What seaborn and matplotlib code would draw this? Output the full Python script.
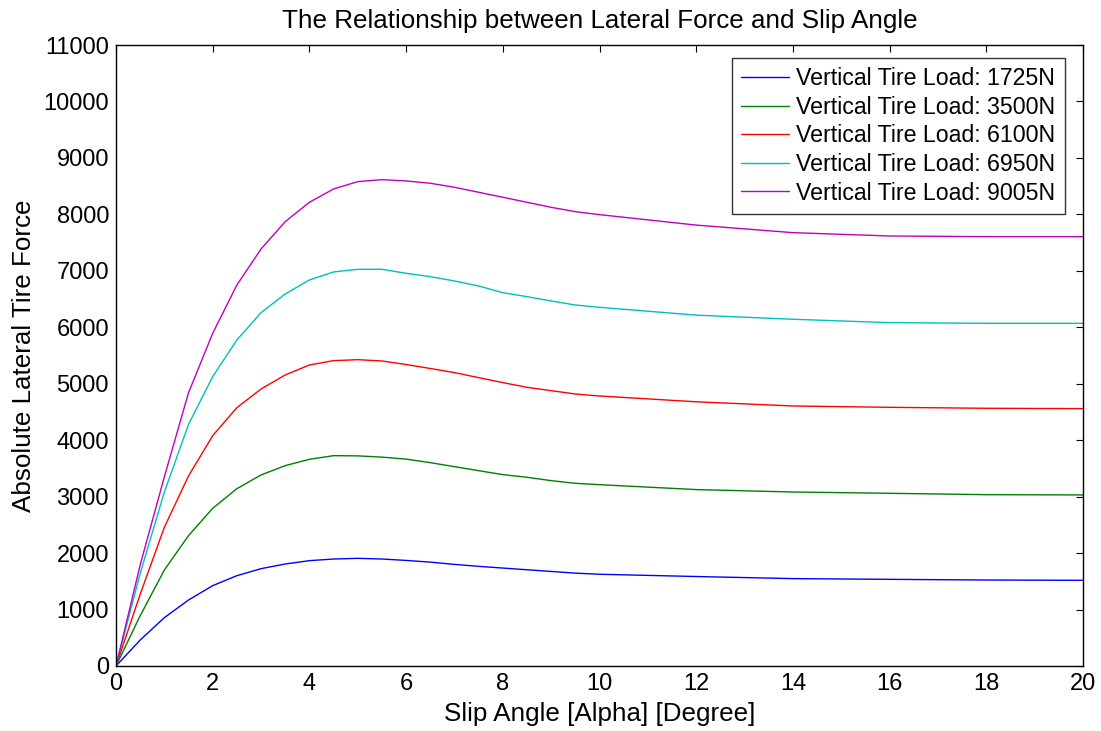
import numpy as np
import pandas as pd
import matplotlib
matplotlib.use("Agg")
import matplotlib.pyplot as plt
import seaborn as sns

# ---- data ----
slip_angle = [0, 0.5, 1, 1.5, 2, 2.5, 3, 3.5, 4, 4.5, 5, 5.5, 6, 6.5, 7, 7.5,
              8, 8.5, 9, 9.5, 10, 12, 14, 16, 18, 20]

load_1725 = [0, 460, 856, 1169, 1423, 1600, 1724, 1807, 1866, 1895, 1907, 1895,
             1870, 1840, 1800, 1765, 1735, 1705, 1675, 1645, 1625, 1585, 1548,
             1535, 1523, 1518]
load_3500 = [0, 890, 1700, 2309, 2793, 3141, 3384, 3549, 3661, 3726, 3722, 3700,
             3665, 3602, 3531, 3460, 3390, 3343, 3283, 3236, 3212, 3125, 3082,
             3059, 3035, 3030]
load_6100 = [0, 1270, 2457, 3366, 4080, 4576, 4907, 5155, 5332, 5409, 5426, 5403,
             5340, 5270, 5197, 5108, 5020, 4937, 4877, 4818, 4783, 4680, 4606,
             4582, 4565, 4559]
load_6950 = [0, 1640, 3080, 4280, 5126, 5775, 6259, 6590, 6838, 6980, 7027, 7027,
             6956, 6897, 6820, 6732, 6613, 6542, 6466, 6395, 6354, 6215, 6142,
             6082, 6070, 6070]
load_9005 = [0, 1790, 3350, 4840, 5894, 6749, 7387, 7871, 8214, 8450, 8580, 8615,
             8592, 8551, 8480, 8391, 8303, 8214, 8125, 8048, 7995, 7810, 7676,
             7617, 7605, 7605]

series_labels = ["Vertical Tire Load: 1725N", "Vertical Tire Load: 3500N",
                 "Vertical Tire Load: 6100N", "Vertical Tire Load: 6950N",
                 "Vertical Tire Load: 9005N"]
series_values = [load_1725, load_3500, load_6100, load_6950, load_9005]
colors = ["#0000ff", "#008000", "#ff0000", "#00bfbf", "#bf00bf"]

x_ticks = list(range(0, 21, 2))
y_ticks = list(range(0, 11001, 1000))

frames = []
for lab, vals in zip(series_labels, series_values):
    frames.append(pd.DataFrame({"alpha": slip_angle, "force": vals, "load": lab}))
df = pd.concat(frames, ignore_index=True)

# ---- style ----
sns.set_theme(style="white")
plt.rcParams["font.family"] = ["Liberation Sans", "DejaVu Sans"]
plt.rcParams["text.color"] = "black"
plt.rcParams["axes.labelcolor"] = "black"
plt.rcParams["xtick.color"] = "black"
plt.rcParams["ytick.color"] = "black"

fig = plt.figure(figsize=(11.01, 7.31), dpi=100)
ax = fig.add_axes([116 / 1101, 1 - 666 / 731, (1083 - 116) / 1101, (666 - 45) / 731])

sns.lineplot(data=df, x="alpha", y="force", hue="load", palette=colors,
             hue_order=series_labels, linewidth=1.0, ax=ax, sort=False,
             estimator=None)

ax.set_xlim(0, 20)
ax.set_ylim(0, 11000)
ax.set_xticks(x_ticks)
ax.set_yticks(y_ticks)
ax.tick_params(direction="in", length=5, width=0.8, top=True, right=True,
               labelsize=17, colors="black", labelcolor="black", pad=5)
for s in ax.spines.values():
    s.set_color("black")
    s.set_linewidth(1.0)
    s.set_visible(True)

ax.set_title("The Relationship between Lateral Force and Slip Angle",
             fontsize=18.7, pad=12, color="black")
ax.set_xlabel("Slip Angle [Alpha] [Degree]", fontsize=18.7, labelpad=5,
              color="black")
ax.set_ylabel("Absolute Lateral Tire Force", fontsize=18.7, labelpad=5,
              color="black")

leg = ax.legend(loc="upper right", bbox_to_anchor=(0.981, 0.979),
                borderaxespad=0, fontsize=16.7, frameon=True, fancybox=False,
                handlelength=2.07, handletextpad=0.3, labelspacing=0.24,
                borderpad=0.4)
leg.get_frame().set_edgecolor("black")
leg.get_frame().set_linewidth(1.0)
for t in leg.get_texts():
    t.set_color("black")
for line in leg.get_lines():
    line.set_linewidth(1.0)

fig.savefig("out.png", dpi=100)
